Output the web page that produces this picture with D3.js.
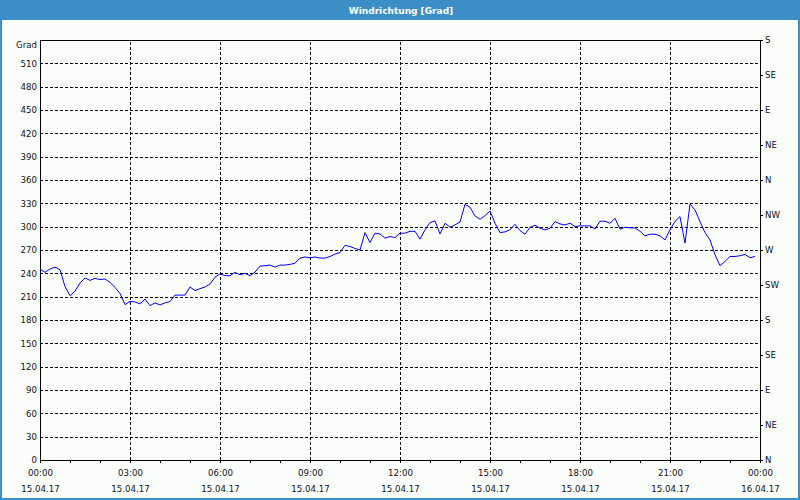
<!DOCTYPE html>
<html>
<head>
<meta charset="utf-8">
<script src="https://cdn.jsdelivr.net/npm/d3@7"></script>
<style>
  html, body { margin: 0; padding: 0; background: #ffffff; }
  svg { display: block; }
</style>
</head>
<body>
<svg id="chart" width="800" height="500"></svg>
<script>
// ---- data ----
const chartTitle = "Windrichtung [Grad]";
const unitLabel = "Grad";
const startTime = "2017-04-15T00:00:00";
const endTime = "2017-04-16T00:00:00";
const intervalMinutes = 10;
const windDirection = [
  245.5, 241.3, 245.5, 248, 244.6, 223, 211.3, 217, 227.6, 234, 231, 233.5,
  232, 232.7, 228.4, 222, 214, 199.8, 204, 203.2, 200.7, 207, 198.5, 202,
  199.4, 202, 203.7, 212, 212, 212, 222.4, 217.8, 220.3, 222.4, 226.3, 235,
  239.4, 237, 237, 241.2, 238.2, 240, 237, 241.6, 249.3, 249.8, 250.6, 248,
  250.6,
  250.6, 251.5, 253, 259.6, 261, 260, 261, 259.6, 259.6, 261.7, 264.7, 266.8,
  276, 274.5, 272, 270, 292.4, 279.6, 291.6, 290.7, 285.2, 287.3, 286, 291.6,
  291.6, 294, 294, 284, 295.9, 305.2, 307.4, 290.7, 304.4, 299.3, 302.3, 306,
  328.7, 325, 313.8, 309.5, 314.2, 320.2, 304.4, 292.4, 293.3, 296, 303, 295,
  290.3, 299.3, 301.8, 298, 295.9, 298, 306.5, 303.5, 302.3, 304.4, 300.1, 301,
  301, 301, 297.1, 307, 307, 304.4, 310.8, 296.7, 299.3, 298.4, 298.4, 294.1,
  288.2, 290.3, 290.3, 288.2, 283, 295.9, 307, 313, 278.8, 329, 321.5, 306.5,
  292.4, 283, 263.8, 249.8, 255.3, 261.7, 261.7, 262.6, 264.3, 260, 261.7
];
const yTickValues = [0, 30, 60, 90, 120, 150, 180, 210, 240, 270, 300, 330, 360, 390, 420, 450, 480, 510];
const yMax = 540;
const dirTickValues = [0, 45, 90, 135, 180, 225, 270, 315, 360, 405, 450, 495, 540];
const dirLabels = ["N", "NE", "E", "SE", "S", "SW", "W", "NW", "N", "NE", "E", "SE", "S"];
const xTimeLabels = ["00:00", "03:00", "06:00", "09:00", "12:00", "15:00", "18:00", "21:00", "00:00"];
const xDateLabels = ["15.04.17", "15.04.17", "15.04.17", "15.04.17", "15.04.17", "15.04.17", "15.04.17", "15.04.17", "16.04.17"];

// ---- layout ----
const W = 800, H = 500;
const m = { left: 40, right: 760, top: 40, bottom: 460 };
const blue = "#3c8fc6";
const font = "'DejaVu Sans', Verdana, sans-serif";
const fs = 8.6;

const svg = d3.select("#chart");

// background
svg.append("rect").attr("x", 0).attr("y", 0).attr("width", W).attr("height", H).attr("fill", "#fbfdfb");
// frame border
svg.append("rect").attr("x", 1).attr("y", 1).attr("width", W - 2).attr("height", H - 2)
  .attr("fill", "none").attr("stroke", blue).attr("stroke-width", 2);
// title bar
svg.append("rect").attr("x", 0).attr("y", 0).attr("width", W).attr("height", 20).attr("fill", blue);
svg.append("text").attr("x", 401).attr("y", 13.5).attr("text-anchor", "middle")
  .attr("fill", "#ffffff").attr("font-family", font).attr("font-weight", "bold")
  .attr("font-size", 9).text(chartTitle);

const parse = d3.isoParse;
const t0 = parse(startTime), t1 = parse(endTime);
const x = d3.scaleTime().domain([t0, t1]).range([m.left, m.right]);
const y = d3.scaleLinear().domain([0, yMax]).range([m.bottom, m.top]);

const points = windDirection.map((v, i) => ({ t: d3.timeMinute.offset(t0, i * intervalMinutes), v }));
const majorTimes = xTimeLabels.map((_, i) => d3.timeHour.offset(t0, i * 3));
const hourTimes = d3.timeHour.range(t0, d3.timeHour.offset(t1, 1));

// horizontal grid
svg.append("g")
  .attr("transform", `translate(${m.left},0)`)
  .call(d3.axisLeft(y).tickValues(yTickValues.filter(v => v > 0)).tickSize(-(m.right - m.left)).tickFormat(""))
  .call(g => g.select(".domain").remove())
  .call(g => g.selectAll("line").attr("stroke", "#000").attr("stroke-dasharray", "3,2").attr("shape-rendering", "crispEdges"));

// vertical grid
svg.append("g")
  .attr("transform", `translate(0,${m.bottom})`)
  .call(d3.axisBottom(x).tickValues(majorTimes.slice(1, -1)).tickSize(-(m.bottom - m.top)).tickFormat(""))
  .call(g => g.select(".domain").remove())
  .call(g => g.selectAll("line").attr("stroke", "#000").attr("stroke-dasharray", "3,2").attr("shape-rendering", "crispEdges"));

// plot frame
svg.append("rect").attr("x", m.left + 0.5).attr("y", m.top + 0.5)
  .attr("width", m.right - m.left).attr("height", m.bottom - m.top)
  .attr("fill", "none").attr("stroke", "#000").attr("shape-rendering", "crispEdges");

// left axis labels
const yAx = svg.append("g")
  .attr("transform", `translate(${m.left},0)`)
  .call(d3.axisLeft(y).tickValues(yTickValues).tickSize(0).tickPadding(3))
  .call(g => g.select(".domain").remove());
yAx.selectAll("text").attr("font-family", font).attr("font-size", fs).attr("fill", "#111");
svg.append("text").attr("x", m.left - 3).attr("y", y(yMax) + 5).attr("dy", "0.32em")
  .attr("text-anchor", "end").attr("font-family", font).attr("font-size", fs).attr("fill", "#111").text(unitLabel);

// right axis (compass)
const rAx = svg.append("g")
  .attr("transform", `translate(${m.right},0)`)
  .call(d3.axisRight(y).tickValues(dirTickValues).tickSize(3).tickPadding(2).tickFormat((d, i) => dirLabels[i]))
  .call(g => g.select(".domain").remove());
rAx.selectAll("line").attr("stroke", "#000").attr("shape-rendering", "crispEdges");
rAx.selectAll("text").attr("font-family", font).attr("font-size", fs).attr("fill", "#111");

// bottom hourly ticks
svg.append("g")
  .attr("transform", `translate(0,${m.bottom})`)
  .call(d3.axisBottom(x).tickValues(hourTimes).tickSize(3).tickFormat(""))
  .call(g => g.select(".domain").remove())
  .call(g => g.selectAll("line").attr("stroke", "#000").attr("shape-rendering", "crispEdges"));

// bottom labels
const xAx = svg.append("g")
  .attr("transform", `translate(0,${m.bottom})`)
  .call(d3.axisBottom(x).tickValues(majorTimes).tickSize(0).tickPadding(9.5).tickFormat((d, i) => xTimeLabels[i]))
  .call(g => g.select(".domain").remove());
xAx.selectAll(".tick").append("text")
  .attr("y", 25.5).attr("dy", "0.71em").attr("fill", "#111")
  .text((d, i) => xDateLabels[i]);
xAx.selectAll("text").attr("font-family", font).attr("font-size", fs).attr("fill", "#111");

// data line
const line = d3.line().x(d => x(d.t)).y(d => y(d.v));
svg.append("path").datum(points)
  .attr("d", line)
  .attr("fill", "none")
  .attr("stroke", "#0000ff")
  .attr("stroke-width", 1);
</script>
</body>
</html>
